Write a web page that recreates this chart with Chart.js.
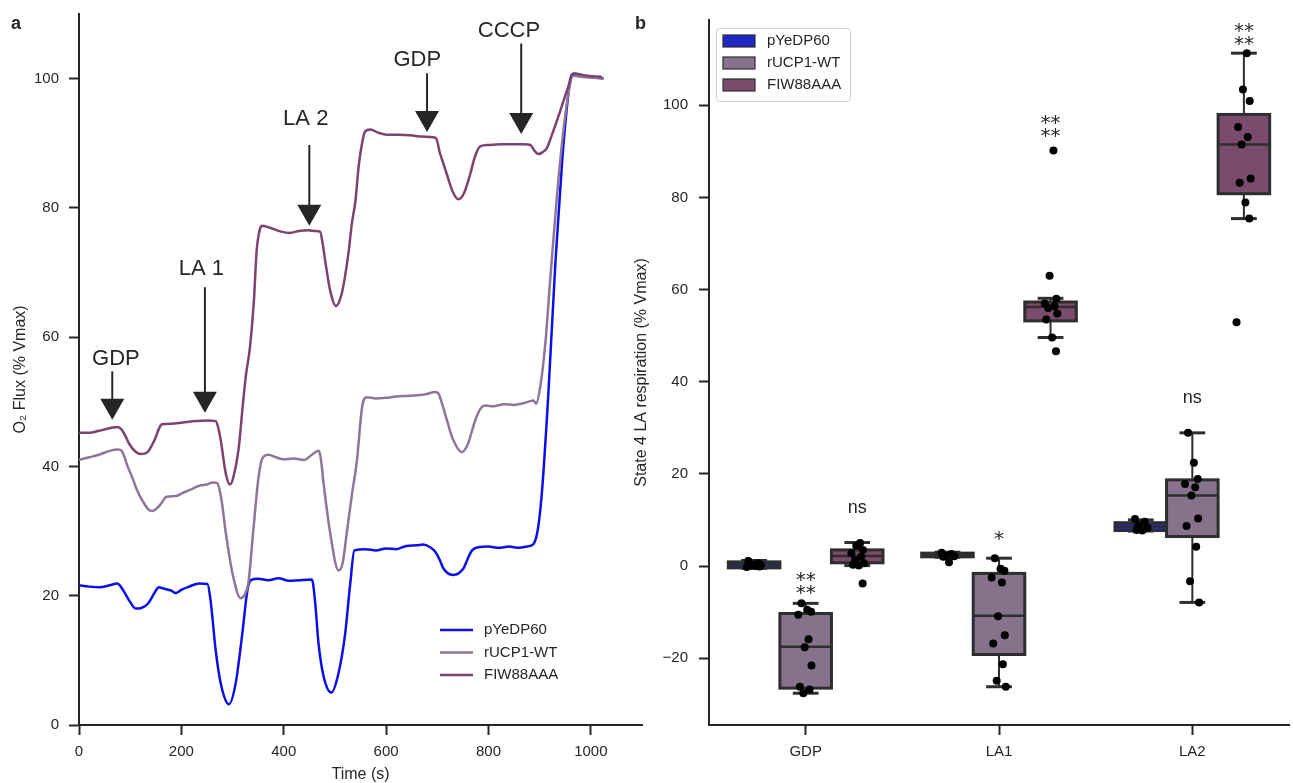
<!DOCTYPE html>
<html>
<head>
<meta charset="utf-8">
<script src="https://cdn.jsdelivr.net/npm/chart.js@4.4.1/dist/chart.umd.min.js"></script>
<style>
  html, body { margin: 0; padding: 0; background: #fff; }
  #wrap { position: relative; width: 1293px; height: 783px; }
  #wrap canvas { position: absolute; left: 0; top: 0; }
</style>
</head>
<body>
<div id="wrap">
  <canvas id="chartA" width="1293" height="783"></canvas>
  <canvas id="chartB" width="1293" height="783"></canvas>
</div>
<script>
// ========================================
// DATA
// ========================================

const seriesNames = ["pYeDP60", "rUCP1-WT", "FIW88AAA"];

// panel a - oxygen flux traces (time in s, flux in % Vmax)
const timeBlue = [0, 20, 40, 60, 75, 85, 100, 111, 122, 135, 148, 156, 165, 180, 189, 200, 215, 235, 251, 257, 267, 277, 293, 306, 319, 329, 336, 350, 370, 390, 410, 430, 455, 461, 468, 478, 493, 507, 520, 530, 538, 560, 580, 600, 620, 640, 660, 672, 686, 696, 705, 712, 731, 751, 760, 768, 780, 800, 820, 840, 860, 875, 888, 897, 905, 917, 931, 944, 956, 963, 980, 1000, 1025];
const fluxBlue = [21.6, 21.4, 21.3, 21.6, 21.9, 21.0, 19.0, 18.0, 18.1, 18.8, 20.5, 21.3, 21.1, 20.8, 20.4, 20.9, 21.4, 21.9, 21.8, 19.3, 11.6, 6.4, 3.2, 6.4, 14.1, 20.8, 22.4, 22.6, 22.4, 22.7, 22.3, 22.4, 22.5, 19.3, 12.6, 7.5, 5.0, 8.0, 14.1, 21.9, 27.0, 27.2, 27.0, 27.3, 27.2, 27.7, 27.8, 27.9, 27.5, 26.8, 25.5, 24.2, 23.2, 24.2, 25.8, 27.0, 27.5, 27.6, 27.4, 27.6, 27.4, 27.6, 28.0, 30.5, 36.5, 51.2, 71.8, 87.2, 97.5, 100.6, 100.4, 100.2, 100.0];

const timeWT = [0, 20, 39, 60, 78, 85, 95, 104, 114, 124, 135, 143, 152, 160, 171, 189, 200, 215, 235, 250, 261, 270, 278, 287, 300, 316, 324, 331, 340, 350, 358, 370, 385, 400, 420, 440, 455, 468, 472, 478, 491, 507, 515, 523, 533, 543, 553, 562, 580, 600, 620, 640, 660, 680, 695, 702, 710, 719, 730, 748, 760, 774, 785, 794, 810, 830, 850, 870, 888, 893, 901, 911, 921, 934, 947, 958, 965, 985, 1025];
const fluxWT = [41.0, 41.4, 41.8, 42.4, 42.6, 42.2, 40.0, 38.3, 36.2, 34.7, 33.4, 33.1, 33.5, 34.2, 35.3, 35.4, 35.8, 36.3, 37.0, 37.2, 37.5, 37.4, 35.0, 29.6, 23.4, 19.6, 20.2, 22.0, 29.6, 37.8, 41.2, 41.8, 41.4, 41.1, 41.2, 41.0, 41.8, 42.4, 41.5, 37.3, 29.6, 23.9, 25.0, 29.6, 35.5, 40.9, 49.1, 50.7, 50.5, 50.6, 50.8, 50.9, 51.0, 51.2, 51.5, 51.3, 49.5, 47.1, 44.3, 42.2, 43.5, 47.1, 49.0, 49.4, 49.3, 49.6, 49.5, 49.8, 50.2, 49.7, 52.2, 58.9, 69.2, 82.0, 92.3, 98.5, 100.4, 100.2, 100.0];

const timeFIW = [0, 20, 39, 60, 75, 82, 90, 98, 110, 121, 134, 142, 150, 156, 162, 180, 196, 215, 228, 250, 267, 272, 277, 287, 295, 306, 313, 319, 326, 334, 342, 347, 352, 357, 373, 395, 412, 430, 448, 462, 471, 476, 481, 491, 502, 513, 520, 527, 533, 540, 546, 552, 559, 569, 585, 601, 625, 647, 670, 692, 698, 705, 712, 719, 730, 741, 752, 764, 774, 784, 800, 823, 850, 870, 882, 890, 898, 906, 914, 925, 940, 955, 966, 986, 1022];
const fluxFIW = [45.2, 45.2, 45.5, 45.9, 46.1, 45.8, 44.8, 43.5, 42.3, 41.9, 42.2, 43.2, 44.5, 45.8, 46.5, 46.6, 46.7, 46.9, 47.0, 47.1, 47.0, 46.0, 44.0, 38.8, 37.2, 39.9, 43.5, 48.6, 54.0, 58.4, 66.0, 73.3, 76.2, 77.2, 76.9, 76.3, 76.1, 76.4, 76.5, 76.4, 76.3, 74.5, 71.8, 67.1, 64.8, 66.6, 69.5, 73.3, 77.5, 81.0, 86.1, 89.5, 91.8, 92.1, 91.6, 91.3, 91.3, 91.2, 91.0, 90.9, 90.7, 88.5, 86.8, 85.1, 82.5, 81.3, 82.2, 85.1, 88.0, 89.5, 89.7, 89.8, 89.8, 89.8, 89.7, 88.8, 88.3, 88.6, 89.2, 91.5, 94.9, 98.5, 100.8, 100.5, 100.2];

const xTicksA = [0, 200, 400, 600, 800, 1000];
const yTicksA = [0, 20, 40, 60, 80, 100];

// additions marked on the trace
const arrowLabels = ["GDP", "LA 1", "LA 2", "GDP", "CCCP"];
const arrowTimes = [65, 246, 450, 680, 864];
const arrowTips = [47.2, 48.3, 77.2, 91.7, 91.4];
const arrowTails = [54.7, 67.7, 89.7, 100.8, 105.4];
const labelTimes = [72, 239, 443, 661, 840];
const labelFlux = [56.9, 70.8, 94.0, 103.1, 107.6];

// panel b - state 4 respiration per condition
const conditions = ["GDP", "LA1", "LA2"];
const yTicksB = [-20, 0, 20, 40, 60, 80, 100];

// individual measurements, one list per condition
const pYeDP60Pts = [
  [1.1, 0.6, 0.3, 0.2, 0.1, 0.0, -0.1, -0.2],
  [2.9, 2.6, 2.3, 2.1, 2.0, 0.8],
  [10.2, 9.6, 8.8, 8.3, 7.8, 7.7]
];
const rUCP1Pts = [
  [-8.1, -9.5, -9.9, -10.6, -15.9, -17.6, -21.6, -26.2, -26.8, -27.6],
  [1.7, -0.6, -1.0, -2.5, -3.6, -10.9, -15.0, -16.8, -21.3, -24.9, -26.2],
  [28.9, 22.4, 18.9, 17.8, 17.1, 15.3, 10.3, 8.7, 4.2, -3.3, -7.9]
];
const FIW88AAAPts = [
  [5.0, 4.4, 3.5, 2.8, 2.0, 1.2, 0.6, 0.3, 0.1, -3.8],
  [90.2, 63.0, 58.0, 57.0, 56.4, 56.0, 54.8, 53.5, 49.6, 46.6],
  [111.3, 103.4, 100.9, 95.3, 93.1, 91.5, 84.1, 83.2, 78.9, 75.4, 52.9]
];

// box stats [whisker low, q1, median, q3, whisker high]
const pYeDP60Box = [[-0.5, -0.4, 0.2, 0.9, 1.2], [1.9, 2.0, 2.4, 2.8, 3.0], [7.6, 7.7, 8.5, 9.4, 10.0]];
const rUCP1Box = [[-27.6, -26.5, -17.5, -10.3, -8.1], [-26.2, -19.2, -10.8, -1.6, 1.7], [-7.9, 6.4, 15.3, 18.7, 28.9]];
const FIW88AAABox = [[0.1, 0.7, 2.2, 3.5, 5.1], [49.6, 53.2, 56.2, 57.3, 58.1], [75.4, 80.8, 91.5, 98.0, 111.3]];

// significance marks (rUCP1-WT and FIW88AAA vs pYeDP60)
const rUCP1Sig = ["**\n**", "*", "ns"];
const rUCP1SigY = [-1.8, 7.1, 36.4];
const FIW88AAASig = ["ns", "**\n**", "**\n**"];
const FIW88AAASigY = [12.6, 97.5, 117.4];

// ========================================
// STYLE
// ========================================

const family = "'Liberation Sans', Arial, Helvetica, sans-serif";
const ink = "#262626";
const lineColors = ["#0a10e6", "#8f7699", "#7e4271"];
const boxColors = ["#1f27c4", "#87728c", "#7b4b6d"];
const boxEdge = "#2e2e2e";
const dodge = [-0.8 / 3, 0, 0.8 / 3];
const boxWidth = 0.8 / 3;
const jitter = [-0.03, 0.02, -0.012, 0.035, -0.022, 0.008, 0.028, -0.038, 0.015, -0.005, 0.03];

Chart.defaults.font.family = family;
Chart.defaults.color = ink;

function axisGrid() {
  return { display: true, drawOnChartArea: false, tickLength: 10, tickWidth: 2, tickColor: ink };
}
function axisBorder() {
  return { display: true, color: ink, width: 2 };
}
function line(ctx, x1, y1, x2, y2) {
  ctx.beginPath();
  ctx.moveTo(x1, y1);
  ctx.lineTo(x2, y2);
  ctx.stroke();
}
function toXY(ts, vs) {
  return ts.map((t, i) => ({ x: t, y: vs[i] }));
}

// ========================================
// PANEL A
// ========================================

const panelAPlugin = {
  id: "panelA",
  afterDatasetsDraw(chart) {
    const { ctx, scales: { x, y } } = chart;
    ctx.save();
    ctx.strokeStyle = ink;
    ctx.fillStyle = ink;
    arrowLabels.forEach((lab, i) => {
      const ax = x.getPixelForValue(arrowTimes[i]);
      const tip = y.getPixelForValue(arrowTips[i]);
      const tail = y.getPixelForValue(arrowTails[i]);
      ctx.lineWidth = 2;
      line(ctx, ax, tail, ax, tip - 18);
      ctx.beginPath();
      ctx.moveTo(ax - 12, tip - 21);
      ctx.lineTo(ax + 12, tip - 21);
      ctx.lineTo(ax, tip);
      ctx.closePath();
      ctx.fill();
      ctx.font = "22px " + family;
      ctx.textAlign = "center";
      ctx.textBaseline = "alphabetic";
      ctx.fillText(lab, x.getPixelForValue(labelTimes[i]), y.getPixelForValue(labelFlux[i]) + 8);
    });

    // legend
    ctx.font = "15px " + family;
    ctx.textAlign = "left";
    ctx.textBaseline = "middle";
    seriesNames.forEach((name, i) => {
      const ly = 630 + i * 22.5;
      ctx.strokeStyle = lineColors[i];
      ctx.lineWidth = 2.5;
      line(ctx, 440, ly, 473, ly);
      ctx.fillStyle = ink;
      ctx.fillText(name, 484, ly);
    });

    ctx.font = "bold 18px " + family;
    ctx.textBaseline = "alphabetic";
    ctx.fillText("a", 11, 29);
    ctx.restore();
  }
};

new Chart(document.getElementById("chartA"), {
  type: "line",
  data: {
    datasets: [
      { label: seriesNames[0], data: toXY(timeBlue, fluxBlue), borderColor: lineColors[0], order: 2 },
      { label: seriesNames[1], data: toXY(timeWT, fluxWT), borderColor: lineColors[1], order: 1 },
      { label: seriesNames[2], data: toXY(timeFIW, fluxFIW), borderColor: lineColors[2], order: 0 }
    ].map((d) => Object.assign(d, { borderWidth: 2.5, pointRadius: 0, fill: false, cubicInterpolationMode: "monotone" }))
  },
  options: {
    responsive: false,
    animation: false,
    events: [],
    layout: { padding: { left: 0, right: 651, top: 12, bottom: 0 } },
    plugins: { legend: { display: false }, tooltip: { enabled: false } },
    scales: {
      x: {
        type: "linear",
        min: 0,
        max: 1100,
        afterBuildTicks: (s) => { s.ticks = xTicksA.map((v) => ({ value: v })); },
        afterFit: (s) => { s.height = 58; },
        grid: axisGrid(),
        border: axisBorder(),
        ticks: { font: { size: 15 }, color: ink, padding: 8, maxRotation: 0, callback: (v) => String(v) },
        title: { display: true, text: "Time (s)", font: { size: 16, lineHeight: 1 }, color: ink, padding: 0 }
      },
      y: {
        min: 0,
        max: 110,
        afterBuildTicks: (s) => { s.ticks = yTicksA.map((v) => ({ value: v })); },
        afterFit: (s) => { s.width = 79; },
        grid: axisGrid(),
        border: axisBorder(),
        ticks: { font: { size: 15, lineHeight: 0.5 }, color: ink, padding: 10, callback: (v) => String(v) },
        title: { display: true, text: "O\u2082 Flux (% Vmax)", font: { size: 16, lineHeight: 1 }, color: ink, padding: { top: 13, bottom: 0 } }
      }
    }
  },
  plugins: [panelAPlugin]
});

// ========================================
// PANEL B
// ========================================

const allPts = [pYeDP60Pts, rUCP1Pts, FIW88AAAPts];
const allBoxes = [pYeDP60Box, rUCP1Box, FIW88AAABox];

function stripPoints(groups, si) {
  const pts = [];
  groups.forEach((vals, ci) => {
    vals.forEach((v, j) => {
      pts.push({ x: ci + dodge[si] + jitter[(j + si * 4) % jitter.length], y: v });
    });
  });
  return pts;
}

function drawSig(ctx, text, px, py) {
  const rows = text.split("\n");
  rows.forEach((row, r) => {
    const cy = py + r * 13;
    if (row.indexOf("*") >= 0) {
      ctx.font = "20px 'DejaVu Sans', " + family;
      ctx.fillText(row, px, cy + 12);
    } else {
      ctx.font = "18px " + family;
      ctx.fillText(row, px, cy + 4.7);
    }
  });
}

const panelBPlugin = {
  id: "panelB",
  beforeDatasetsDraw(chart) {
    const { ctx, scales: { x, y } } = chart;
    const w = x.getPixelForValue(boxWidth) - x.getPixelForValue(0);
    ctx.save();
    ctx.strokeStyle = boxEdge;
    allBoxes.forEach((boxes, si) => {
      boxes.forEach((b, ci) => {
        const cx = x.getPixelForValue(ci + dodge[si]);
        const [lo, q1, med, q3, hi] = b.map((v) => y.getPixelForValue(v));
        ctx.lineWidth = 2;
        line(ctx, cx, q3, cx, hi);
        line(ctx, cx, q1, cx, lo);
        ctx.lineWidth = 3;
        line(ctx, cx - w / 4, hi, cx + w / 4, hi);
        line(ctx, cx - w / 4, lo, cx + w / 4, lo);
        ctx.fillStyle = boxColors[si];
        ctx.fillRect(cx - w / 2, q3, w, q1 - q3);
        ctx.strokeRect(cx - w / 2, q3, w, q1 - q3);
        ctx.lineWidth = 2.5;
        line(ctx, cx - w / 2, med, cx + w / 2, med);
      });
    });
    ctx.restore();
  },
  afterDatasetsDraw(chart) {
    const { ctx, scales: { x, y } } = chart;
    ctx.save();
    ctx.fillStyle = ink;
    ctx.textAlign = "center";
    ctx.textBaseline = "alphabetic";
    rUCP1Sig.forEach((t, ci) => drawSig(ctx, t, x.getPixelForValue(ci + dodge[1]), y.getPixelForValue(rUCP1SigY[ci])));
    FIW88AAASig.forEach((t, ci) => drawSig(ctx, t, x.getPixelForValue(ci + dodge[2]), y.getPixelForValue(FIW88AAASigY[ci])));

    // legend
    ctx.beginPath();
    ctx.roundRect(716.5, 28.5, 134, 73, 3);
    ctx.fillStyle = "rgba(255,255,255,0.85)";
    ctx.fill();
    ctx.strokeStyle = "#d0d0d0";
    ctx.lineWidth = 1;
    ctx.stroke();
    ctx.font = "15px " + family;
    ctx.textAlign = "left";
    ctx.textBaseline = "middle";
    seriesNames.forEach((name, i) => {
      const ly = 41 + i * 22;
      ctx.fillStyle = boxColors[i];
      ctx.fillRect(723, ly - 6, 32, 12);
      ctx.strokeStyle = boxEdge;
      ctx.lineWidth = 1.2;
      ctx.strokeRect(723, ly - 6, 32, 12);
      ctx.fillStyle = ink;
      ctx.fillText(name, 767, ly);
    });

    ctx.font = "bold 18px " + family;
    ctx.textBaseline = "alphabetic";
    ctx.fillText("b", 635, 29);
    ctx.restore();
  }
};

new Chart(document.getElementById("chartB"), {
  type: "scatter",
  data: {
    datasets: seriesNames.map((name, si) => ({
      label: name,
      data: stripPoints(allPts[si], si),
      backgroundColor: "#000",
      borderWidth: 0,
      pointRadius: 4
    }))
  },
  options: {
    responsive: false,
    animation: false,
    events: [],
    layout: { padding: { left: 625, right: 3, top: 20, bottom: 0 } },
    plugins: { legend: { display: false }, tooltip: { enabled: false } },
    scales: {
      x: {
        type: "linear",
        min: -0.5,
        max: 2.5,
        afterBuildTicks: (s) => { s.ticks = conditions.map((c, i) => ({ value: i })); },
        afterFit: (s) => { s.height = 58; },
        grid: axisGrid(),
        border: axisBorder(),
        ticks: { font: { size: 15 }, color: ink, padding: 8, maxRotation: 0, callback: (v) => conditions[v] }
      },
      y: {
        min: -34.5,
        max: 118.5,
        afterBuildTicks: (s) => { s.ticks = yTicksB.map((v) => ({ value: v })); },
        afterFit: (s) => { s.width = 84; },
        grid: axisGrid(),
        border: axisBorder(),
        ticks: { font: { size: 15 }, color: ink, padding: 11, callback: (v) => String(v).replace("-", "\u2212") },
        title: { display: true, text: "State 4 LA respiration (% Vmax)", font: { size: 16, lineHeight: 1 }, color: ink, padding: { top: 9, bottom: 0 } }
      }
    }
  },
  plugins: [panelBPlugin]
});
</script>
</body>
</html>
